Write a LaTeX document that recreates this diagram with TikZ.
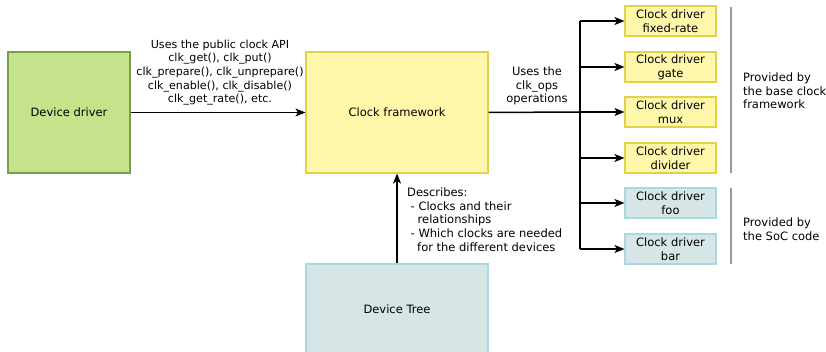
\documentclass[tikz,border=0pt]{standalone}
\usepackage{fontspec}
\setmainfont{DejaVu Sans}
\usetikzlibrary{arrows.meta}
\definecolor{gfill}{HTML}{C5E38B}
\definecolor{gline}{HTML}{77A04A}
\definecolor{yfill}{HTML}{FFF7AA}
\definecolor{yline}{HTML}{E2D24A}
\definecolor{bfill}{HTML}{D6E5E5}
\definecolor{bline}{HTML}{A8D8E2}
\definecolor{sep}{HTML}{999999}
\tikzset{
  box/.style={draw, line width=1.1pt, inner sep=0pt, align=center},
  drvbox/.style={box, fill=gfill, draw=gline},
  fwbox/.style={box, fill=yfill, draw=yline},
  socbox/.style={box, fill=bfill, draw=bline},
  smallbox/.style={minimum width=91pt, minimum height=30pt},
  arr/.style={line width=1.5pt, -{Stealth[length=10pt,width=8pt,inset=2.5pt]}},
  conn/.style={line width=1.5pt},
  lbl/.style={inner sep=0pt, font=\fontsize{11.5}{13.7}\selectfont},
  apilbl/.style={inner sep=0pt, font=\fontsize{11.1}{13.7}\selectfont},
  seprule/.style={draw=sep, line width=1.2pt}
}
\begin{document}
\begin{tikzpicture}[x=1pt,y=-1pt, font=\fontsize{11.5}{13.7}\selectfont]
\useasboundingbox (0,0) rectangle (826,352);
\clip (0,0) rectangle (826,352);
% main boxes
\node[drvbox, minimum width=122pt, minimum height=121pt] (dd) at (69,112.5) {Device driver};
\node[fwbox, minimum width=182pt, minimum height=121pt] (cf) at (397,112.5) {Clock framework};
\node[socbox, minimum width=182pt, minimum height=92pt] (dt) at (397,310) {};
\node[lbl] (dtl) at (397,309) {Device Tree};
% small boxes
\node[fwbox, smallbox] (fr) at (670.5,21) {Clock driver\\fixed-rate};
\node[fwbox, smallbox] (gt) at (670.5,67) {Clock driver\\gate};
\node[fwbox, smallbox] (mx) at (670.5,112) {Clock driver\\mux};
\node[fwbox, smallbox] (dv) at (670.5,158) {Clock driver\\divider};
\node[socbox, smallbox] (fo) at (670.5,203) {Clock driver\\foo};
\node[socbox, smallbox] (br) at (670.5,249) {Clock driver\\bar};
% connectors
\draw[arr] (dd.east) -- (cf.west);
\draw[arr] (dt.north) -- (cf.south);
\coordinate (bus) at (580,112);
\draw[conn] (cf.east) -- (bus);
\draw[conn] (bus |- fr.west) -- (bus |- br.west);
\foreach \n in {fr,gt,mx,dv,fo,br}{
  \draw[arr] (bus |- \n.west) -- (\n.west);
}
% separators
\coordinate (s1a) at (731,7);
\coordinate (s1b) at (731,173);
\coordinate (s2a) at (731,188);
\coordinate (s2b) at (731,264);
\draw[seprule] (s1a) -- (s1b);
\draw[seprule] (s2a) -- (s2b);
% labels
\node[apilbl, align=center] (api) at (220,72.5) {Uses the public clock API\\clk\_get(), clk\_put()\\clk\_prepare(), clk\_unprepare()\\clk\_enable(), clk\_disable()\\clk\_get\_rate(), etc.};
\node[lbl, align=center] (ops) at (537,86) {Uses the\\clk\_ops\\operations};
\node[lbl, align=left, anchor=west] (base) at (743,91) {Provided by\\the base clock\\framework};
\node[lbl, align=left, anchor=west] (soc) at (743,229) {Provided by\\the SoC code};
\node[lbl, align=left, anchor=west] (desc) at (407,219.5) {Describes:\\\hspace*{3.5pt}- Clocks and their\\\hspace*{10.5pt}relationships\\\hspace*{3.5pt}- Which clocks are needed\\\hspace*{10pt}for the different devices};
\end{tikzpicture}
\end{document}
